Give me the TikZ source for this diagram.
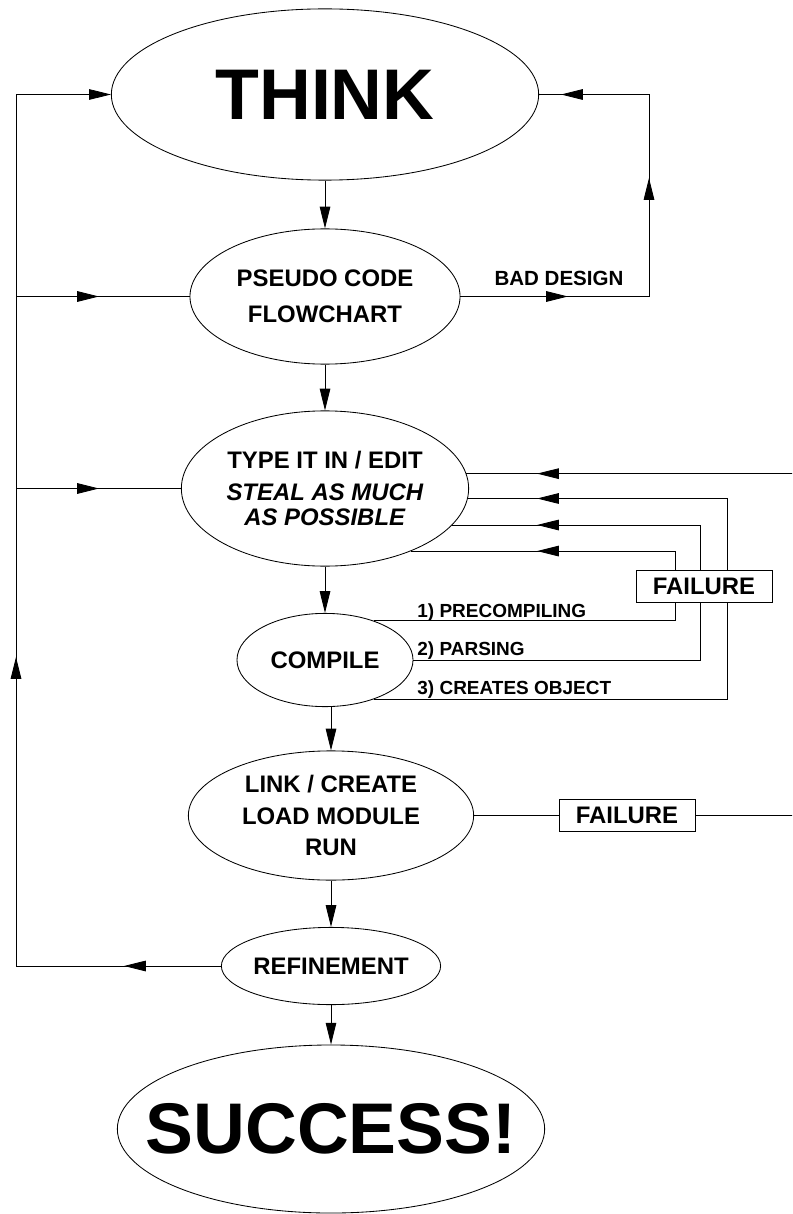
\documentclass[tikz,border=0pt]{standalone}
\usepackage{fontspec}
\setmainfont{Liberation Sans}
\usetikzlibrary{shapes.geometric,arrows.meta}

\begin{document}
\begin{tikzpicture}[x=0.025cm,y=-0.025cm,line width=0.6pt,
    ell/.style={draw,ellipse,inner ysep=0pt,inner xsep=-8pt,align=center,font=\bfseries\fontsize{17}{22.7}\selectfont},
    big/.style={inner xsep=-40pt,font=\bfseries\fontsize{51}{60}\selectfont},
    box/.style={draw,fill=white,inner sep=0pt,minimum width=3.4cm,minimum height=0.78cm,font=\bfseries\fontsize{17}{20}\selectfont},
    lbl/.style={inner sep=0pt,anchor=base west,font=\bfseries\fontsize{13.5}{16}\selectfont},
    arr/.style={-{Triangle[length=15.5pt,width=7.5pt]}}]
    \useasboundingbox(0,0)rectangle(792,1214);
    \clip(0,0)rectangle(792,1214);
    % main chain
    \node[ell,big,minimum width=10.68cm,minimum height=4.28cm](think)at(325,94.5){THINK};
    \node[ell,minimum width=6.75cm,minimum height=3.38cm](pseudo)at(325,296.5){PSEUDO CODE\\[2.8pt]FLOWCHART};
    \node[ell,minimum width=7.18cm,minimum height=3.88cm](type)at(325,488.5){TYPE IT IN / EDIT\\\textit{STEAL AS MUCH}\\[-4.3pt]\textit{AS POSSIBLE}};
    \node[ell,minimum width=4.4cm,minimum height=2.33cm](compile)at(325,660){COMPILE};
    \node[ell,minimum width=7.13cm,minimum height=3.23cm](link)at(331,815.5){LINK / CREATE\\LOAD MODULE\\RUN};
    \node[ell,minimum width=5.48cm,minimum height=1.93cm](refine)at(331,966){REFINEMENT};
    \node[ell,big,minimum width=10.68cm,minimum height=4.2cm](success)at(331,1129){SUCCESS!};
    \node[box](fail2)at(627,815.5){FAILURE};
    % fixed columns
    \coordinate(bus)at(16,0);
    \coordinate(back)at(649,0);
    \coordinate(loop1)at(675,0);
    \coordinate(loop2)at(700,0);
    \coordinate(loop3)at(727,0);
    \coordinate(edge)at(792,0);
    \coordinate(far)at(820,0);
    \coordinate(intip)at(99,0);
    \coordinate(reftip)at(124,0);
    \coordinate(bustip)at(16,657);
    \coordinate(uptip)at(649,178);
    \coordinate(thtip)at(561,0);
    \coordinate(bdtip)at(568,0);
    \coordinate(retip)at(537,0);
    \draw[arr](think)--(pseudo);
    \draw[arr](pseudo)--(type);
    \draw[arr](type)--(compile);
    \draw[arr](compile.south-|link)--(link);
    \draw[arr](link)--(refine);
    \draw[arr](refine)--(success);
    % back to think
    \draw[arr](refine.west)--(bus|-refine.west)--(bus|-think.west)--(think.west);
    \draw[arr](refine.west)--(refine.west-|reftip);
    \draw[arr](bus|-refine.west)--(bustip);
    \draw(pseudo.west-|bus)--(pseudo.west);
    \draw[arr](pseudo.west-|bus)--(pseudo.west-|intip);
    \draw(type.west-|bus)--(type.west);
    \draw[arr](type.west-|bus)--(type.west-|intip);
    % bad design
    \draw(pseudo.east)-|(back|-think.east)--(think.east);
    \draw[arr](pseudo.east)--(pseudo.east-|bdtip);
    \draw[arr](pseudo.east-|back)--(uptip);
    \draw[arr](back|-think.east)--(think.east-|thtip);
    \node[lbl,anchor=base,font=\bfseries\fontsize{14.6}{17}\selectfont](bad)at(559,286){BAD DESIGN};
    % compile failures
    \draw(compile.39)-|(loop1|-type.-36)--(type.-36);
    \draw[arr](loop1|-type.-36)--(retip|-type.-36);
    \draw(compile.east)-|(loop2|-type.-16)--(type.-16);
    \draw[arr](loop2|-type.-16)--(retip|-type.-16);
    \draw(compile.-39)-|(loop3|-type.-4)--(type.-4);
    \draw[arr](loop3|-type.-4)--(retip|-type.-4);
    \node[box](fail1)at(704,586.5){FAILURE};
    \node[lbl](pre)at(417,617){1) PRECOMPILING};
    \node[lbl](par)at(417,655){2) PARSING};
    \node[lbl](obj)at(417,694){3) CREATES OBJECT};
    % link failure
    \draw(link.east)--(fail2.west);
    \draw(fail2.east)-|(far|-type.6)--(type.6);
    \draw[arr](edge|-type.6)--(retip|-type.6);
\end{tikzpicture}
\end{document}
